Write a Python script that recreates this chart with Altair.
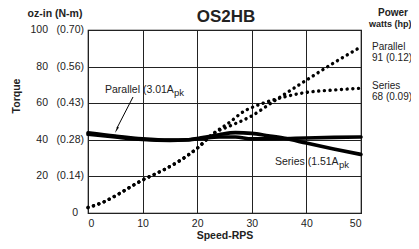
import altair as alt
import pandas as pd

# ---- data ----
speed_par_torque = [0, 5, 10, 15, 18, 21, 24, 27, 30, 35, 40, 45, 50]
par_torque = [43, 41.5, 40.2, 39.7, 39.9, 40.8, 41.5, 41.5, 40.5, 40.6, 41, 41.3, 41.5]
speed_ser_torque = [0, 5, 10, 15, 18, 21, 24, 27, 30, 33, 36, 40, 45, 50]
ser_torque = [43.8, 42, 40.5, 39.8, 40, 41.2, 42.8, 43.9, 43.5, 42.2, 40.8, 38.2, 35, 32]
speed_par_power = [0, 3, 5.5, 8.6, 10, 13.8, 16.5, 20, 23, 25.7, 29.7, 34.5, 40, 45, 50]
par_power = [3, 6.2, 10.2, 15.7, 18, 23.5, 28, 35.4, 43.5, 47.2, 52.6, 62, 72.6, 82, 90.8]
speed_ser_power = [0, 3, 5.5, 8.6, 10, 13.8, 16.5, 20, 23, 25.7, 28.8, 30.3, 34.9, 40, 45, 50]
ser_power = [3, 6.2, 10.2, 15.7, 18, 23.5, 28, 35.4, 43.5, 49, 56, 58, 62.6, 65.9, 67.2, 68.2]

y_ticks = [20, 40, 60, 80, 100]
y_tick_text = ["20", "40", "60", "80", "100"]
y_tick_nm = ["(0.14)", "(0.28)", "(0.43)", "(0.56)", "(0.70)"]
x_ticks = [0, 10, 20, 30, 40, 50]

FONT = "Liberation Sans"

torque_df = pd.concat([
    pd.DataFrame({"speed": speed_par_torque, "value": par_torque, "series": "Parallel"}),
    pd.DataFrame({"speed": speed_ser_torque, "value": ser_torque, "series": "Series"}),
])
power_df = pd.concat([
    pd.DataFrame({"speed": speed_par_power, "value": par_power, "series": "Parallel"}),
    pd.DataFrame({"speed": speed_ser_power, "value": ser_power, "series": "Series"}),
])
ytick_df = pd.DataFrame({"v": y_ticks, "t": y_tick_text, "nm": y_tick_nm})
zero_df = pd.DataFrame({"v": [0], "t": ["0"]})

xs = alt.Scale(domain=[0, 50], nice=False, zero=False)
ys = alt.Scale(domain=[0, 100], nice=False, zero=False)

x_axis = alt.Axis(values=x_ticks, grid=True, gridColor="#222", gridWidth=1,
                  ticks=False, domain=False, labelPadding=5, labelFontSize=10.5,
                  labelFont=FONT, labelColor="#222", title="Speed-RPS",
                  titleFont=FONT, titleFontSize=10.5, titleFontWeight="bold",
                  titleColor="#222", titlePadding=2)
y_axis = alt.Axis(values=[0] + y_ticks, grid=True, gridColor="#222", gridWidth=1,
                  ticks=False, domain=False, labels=False, title=None)

torque = alt.Chart(torque_df).mark_line(
    color="black", strokeWidth=3.6, interpolate="monotone", strokeCap="round"
).encode(
    x=alt.X("speed:Q", scale=xs, axis=x_axis),
    y=alt.Y("value:Q", scale=ys, axis=y_axis),
    detail="series:N",
)

power = alt.Chart(power_df).mark_line(
    color="black", strokeWidth=3.4, interpolate="monotone",
    strokeCap="round", strokeDash=[0.1, 5.6]
).encode(
    x=alt.X("speed:Q", scale=xs, axis=x_axis),
    y=alt.Y("value:Q", scale=ys, axis=y_axis),
    detail="series:N",
)

txt = dict(font=FONT, fontSize=10.5, color="#222", baseline="middle")

y_nums = alt.Chart(ytick_df).mark_text(align="right", **txt).encode(
    x=alt.value(-40), y=alt.Y("v:Q", scale=ys, axis=y_axis), text="t:N")
y_nm = alt.Chart(ytick_df).mark_text(align="right", **txt).encode(
    x=alt.value(-4), y=alt.Y("v:Q", scale=ys, axis=y_axis), text="nm:N")
y_zero = alt.Chart(zero_df).mark_text(align="right", **txt).encode(
    x=alt.value(-10), y=alt.Y("v:Q", scale=ys, axis=y_axis), text="t:N")

def label(text, x, y, align="left", weight="normal", size=10.5, angle=0):
    return alt.Chart(pd.DataFrame({"t": [text]})).mark_text(
        font=FONT, fontSize=size, color="#222", baseline="middle",
        align=align, fontWeight=weight, angle=angle
    ).encode(x=alt.value(x), y=alt.value(y), text="t:N")

labels = [
    label("OS2HB", 138, -13, align="center", weight="bold", size=17),
    label("oz-in (N-m)", -33, -16, align="center", weight="bold"),
    label("Torque", -71, 66, align="center", weight="bold", angle=270),
    label("Power", 305, -17, align="center", weight="bold", size=10),
    label("watts (hp)", 281, -6, weight="bold", size=9),
    label("Parallel", 284, 17, size=10),
    label("91 (0.12)", 284, 28, size=10),
    label("Series", 284, 56, size=10),
    label("68 (0.09)", 284, 67, size=10),
    label("Parallel (3.01A", 17, 60),
    label("pk", 86, 63, size=9.5),
    label("Series (1.51A", 187, 132),
    label("pk", 251, 135, size=9.5),
]

arrow_line = alt.Chart(pd.DataFrame({"a": [0]})).mark_rule(
    color="black", strokeWidth=1
).encode(x=alt.value(45), y=alt.value(67), x2=alt.value(29), y2=alt.value(98))
arrow_head = alt.Chart(pd.DataFrame({"a": [0]})).mark_point(
    shape="wedge", filled=True, color="black", size=60, angle=208, opacity=1
).encode(x=alt.value(29), y=alt.value(99))

chart = alt.layer(
    torque, power, y_nums, y_nm, y_zero, arrow_line, arrow_head, *labels
).properties(
    width=273, height=183,
    autosize=alt.AutoSizeParams(type="none"),
    padding={"left": 80, "top": 22, "right": 50, "bottom": 28},
).configure_view(stroke="black", strokeWidth=1.2)

chart.save("out.html", embed_options={"renderer": "svg", "actions": False})
